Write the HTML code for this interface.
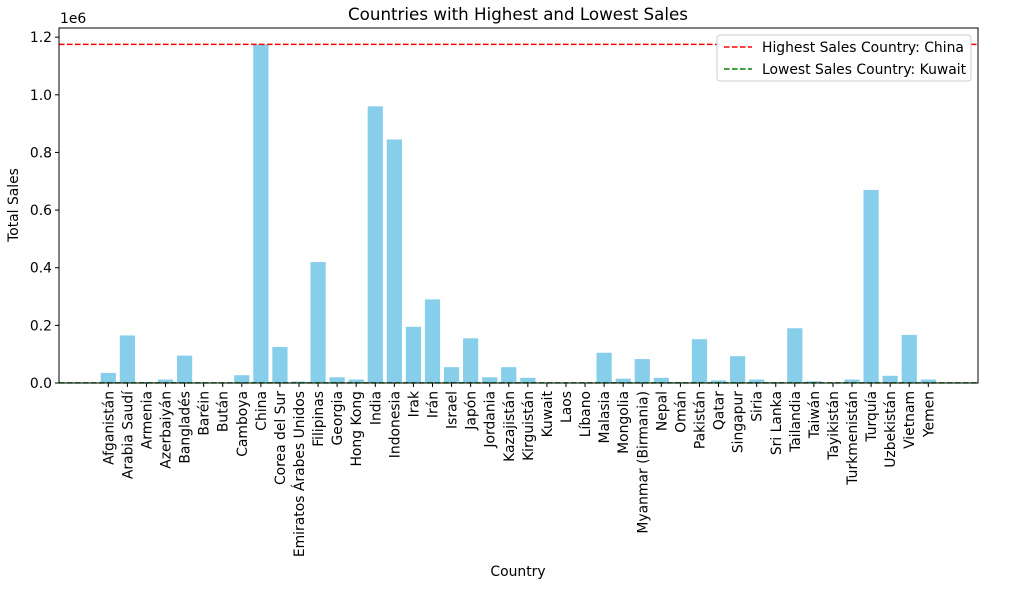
<!DOCTYPE html>
<html><head><meta charset="utf-8">
<style>
body{margin:0;background:#fff;}
svg text{font-family:"DejaVu Sans","Liberation Sans",sans-serif;fill:#000;}
</style></head>
<body>
<svg id="chart" width="1018" height="585" xmlns="http://www.w3.org/2000/svg">
<text x="518" y="20" font-size="16.7" text-anchor="middle">Countries with Highest and Lowest Sales</text>
<g id="bars"></g>
<g id="xticks"></g>
<g id="yticks"></g>
<text x="60" y="23" font-size="13.9">1e6</text>
<text x="518" y="576" font-size="13.9" text-anchor="middle">Country</text>
<text transform="translate(18,205) rotate(-90)" font-size="13.9" text-anchor="middle">Total Sales</text>
<g id="lines"></g>
<rect x="59" y="28" width="919" height="355" fill="none" stroke="#000" stroke-width="1"/>
<g>
<rect x="717" y="35" width="254" height="46" fill="#fff" stroke="#ccc" rx="3"/>
<line x1="724" y1="47" x2="752" y2="47" stroke="red" stroke-width="1.5" stroke-dasharray="5.5,2.5"/>
<text x="762" y="52" font-size="13.9">Highest Sales Country: China</text>
<line x1="724" y1="69" x2="752" y2="69" stroke="green" stroke-width="1.5" stroke-dasharray="5.5,2.5"/>
<text x="762" y="74" font-size="13.9">Lowest Sales Country: Kuwait</text>
</g>
</svg>
<script>
const categories=["Afganistán","Arabia Saudí","Armenia","Azerbaiyán","Bangladés","Baréin","Bután","Camboya","China","Corea del Sur","Emiratos Árabes Unidos","Filipinas","Georgia","Hong Kong","India","Indonesia","Irak","Irán","Israel","Japón","Jordania","Kazajistán","Kirguistán","Kuwait","Laos","Líbano","Malasia","Mongolia","Myanmar (Birmania)","Nepal","Omán","Pakistán","Qatar","Singapur","Siria","Sri Lanka","Tailandia","Taiwán","Tayikistán","Turkmenistán","Turquía","Uzbekistán","Vietnam","Yemen"];
const sales=[35000,165000,3000,12000,95000,2000,2000,27000,1175000,125000,5000,420000,20000,12000,960000,845000,195000,290000,55000,155000,20000,55000,18000,500,1000,2000,105000,15000,83000,18000,3000,152000,9000,93000,12000,3000,190000,6000,2000,12000,670000,25000,167000,12000];
const yTicks=[0,0.2,0.4,0.6,0.8,1.0,1.2];
const yTickLabels=["0.0","0.2","0.4","0.6","0.8","1.0","1.2"];
const NS="http://www.w3.org/2000/svg";
function y(v){return 383-v/1e6*288.2;}
function x(i){return 108.3+i*19.07;}
const bw=15.2;
function mk(t,a,p){const e=document.createElementNS(NS,t);for(const k in a)e.setAttribute(k,a[k]);p.appendChild(e);return e;}
const bars=document.getElementById('bars'),xt=document.getElementById('xticks'),yt=document.getElementById('yticks'),ln=document.getElementById('lines');
categories.forEach((c,i)=>{
 const r=mk('rect',{x:x(i)-bw/2,y:y(sales[i]),width:bw,height:383-y(sales[i]),fill:'#87ceeb'},bars);
 
 
 mk('line',{x1:x(i),x2:x(i),y1:383,y2:387,stroke:'#000'},xt);
 const t=mk('text',{transform:`translate(${x(i)+5},391) rotate(-90)`,'font-size':13.9,'text-anchor':'end'},xt);
 t.textContent=c;
 
 
});
yTicks.forEach((v,i)=>{
 const yy=y(v*1e6);
 mk('line',{x1:55,x2:59,y1:yy,y2:yy,stroke:'#000'},yt);
 const t=mk('text',{x:52,y:yy+5,'font-size':13.9,'text-anchor':'end'},yt);
 t.textContent=yTickLabels[i];
 
 
});
const mx=Math.max(...sales),mn=Math.min(...sales);
const l1=mk('line',{x1:59,x2:978,y1:y(mx),y2:y(mx),stroke:'red','stroke-width':1.5,'stroke-dasharray':'5.5,2.5'},ln);


const l2=mk('line',{x1:59,x2:978,y1:y(mn),y2:y(mn),stroke:'green','stroke-width':1.5,'stroke-dasharray':'5.5,2.5'},ln);


</script>
</body></html>
